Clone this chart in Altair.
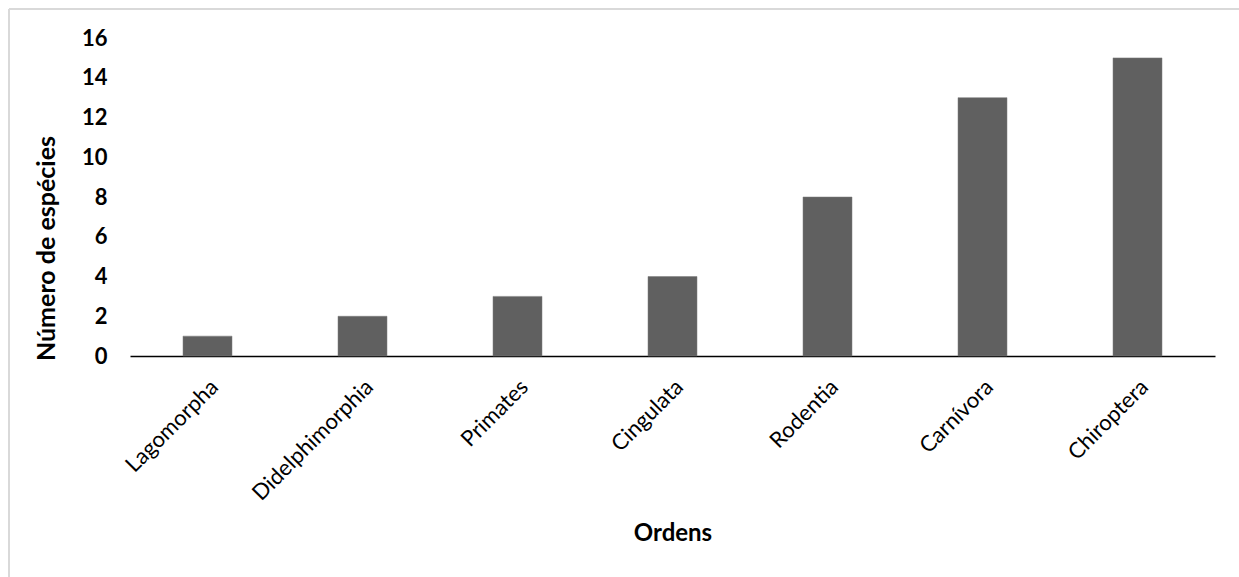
import altair as alt
import pandas as pd

ordens = ["Lagomorpha", "Didelphimorphia", "Primates", "Cingulata", "Rodentia", "Carnívora", "Chiroptera"]
especies = [1, 2, 3, 4, 8, 13, 15]
y_ticks = [0, 2, 4, 6, 8, 10, 12, 14, 16]

df = pd.DataFrame({"Ordens": ordens, "Especies": especies})

FONT = "Lato"
W, H = 1085, 318

bars = alt.Chart(df).mark_bar(color="#606060", stroke="#7a7a7a", strokeWidth=0.5).encode(
    x=alt.X("Ordens:N", sort=ordens,
            scale=alt.Scale(paddingInner=0.684, paddingOuter=0.342),
            axis=alt.Axis(title="Ordens", labelAngle=-45, labelFont=FONT, labelFontSize=22,
                          labelColor="#000000", labelPadding=20, ticks=False,
                          domainColor="#000000", domainWidth=1.5,
                          titleFont=FONT, titleFontSize=24, titleFontWeight="bold",
                          titleColor="#000000", titleY=177, titleBaseline="middle")),
    y=alt.Y("Especies:Q", scale=alt.Scale(domain=[0, 16], nice=False),
            axis=alt.Axis(title="Número de espécies", values=y_ticks, grid=False, domain=False,
                          ticks=False, labelFont=FONT, labelFontSize=22, labelFontWeight="bold",
                          labelColor="#000000", labelPadding=23,
                          titleFont=FONT, titleFontSize=25, titleFontWeight="bold",
                          titleColor="#000000", titleX=-84, titleY=210, titleAngle=-90,
                          titleBaseline="middle", titleAlign="center")),
)

frame_left = alt.Chart(df).mark_rule(color="#d9d9d9", strokeWidth=2, clip=False).encode(
    x=alt.value(-121), y=alt.value(-29), y2=alt.value(H + 250))
frame_top = alt.Chart(df).mark_rule(color="#d9d9d9", strokeWidth=2, clip=False).encode(
    x=alt.value(-121), x2=alt.value(W + 150), y=alt.value(-29))

chart = alt.layer(frame_left, frame_top, bars).properties(
    width=W, height=H,
    view=alt.ViewBackground(strokeWidth=0, stroke="transparent"),
    autosize=alt.AutoSizeParams(type="none"),
    padding={"left": 130, "top": 38, "right": 24, "bottom": 221},
).configure_view(strokeWidth=0, stroke="transparent").configure_axis(grid=False).configure(background="white")

chart.save("out.html", embed_options={"renderer": "svg", "actions": False})
